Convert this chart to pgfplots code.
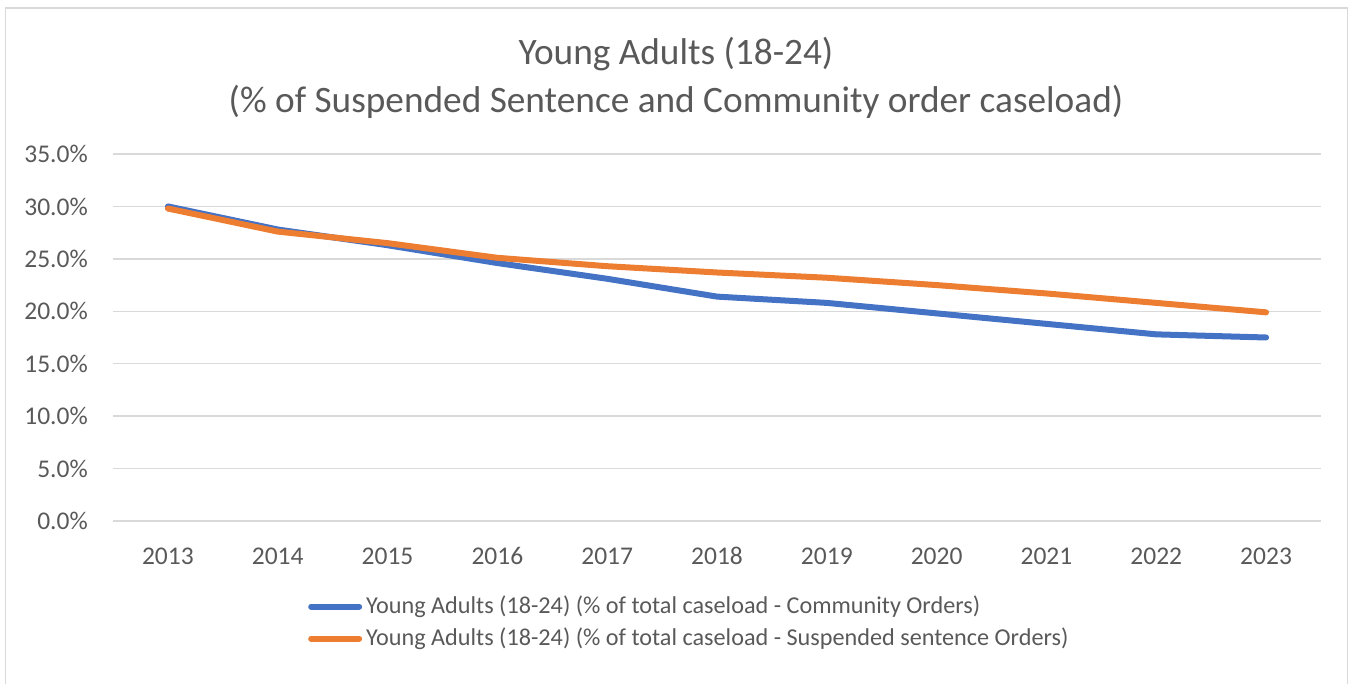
\documentclass[border=0pt]{standalone}
\usepackage{fontspec}
\setmainfont{Carlito}
\usepackage{pgfplots}
\pgfplotsset{compat=1.18}
\definecolor{cblue}{HTML}{4472C4}
\definecolor{corange}{HTML}{ED7D31}
\definecolor{ctext}{HTML}{595959}
\definecolor{cgrid}{HTML}{D9D9D9}
\begin{document}
\begin{tikzpicture}[x=1pt,y=1pt]
\path[use as bounding box] (0,0) rectangle (1352,683);
\draw[cgrid, line width=1.5pt] (5.5,-2) -- (5.5,675) -- (1347.5,675) -- (1347.5,-2);
\node[anchor=base, text=ctext, font=\fontsize{37.3}{44}\selectfont] at (676,618) {Young Adults (18-24)};
\node[anchor=base, text=ctext, font=\fontsize{37.3}{44}\selectfont] at (676,570) {(\% of Suspended Sentence and Community order caseload)};
\begin{axis}[
  at={(113pt,162pt)}, anchor=south west,
  scale only axis, width=1208pt, height=367pt,
  xmin=-0.5, xmax=10.5, ymin=0, ymax=35,
  xtick={0,...,10},
  xticklabels={2013,2014,2015,2016,2017,2018,2019,2020,2021,2022,2023},
  ytick={0,5,...,35},
  axis line style={draw=none},
  major tick length=0pt,
  ymajorgrids, grid style={cgrid, line width=1.5pt},
  /pgf/number format/assume math mode=true,
  yticklabel={\pgfmathprintnumber[fixed,fixed zerofill,precision=1]{\tick}\%},
  tick label style={text=ctext, font=\fontsize{25.5}{30}\selectfont},
  yticklabel style={anchor=east, inner sep=0pt, xshift=-25pt},
  xticklabel style={anchor=base, inner sep=0pt, yshift=-43pt},
  legend style={at={(0.1614,-0.2000)}, anchor=north west, draw=none, fill=none,
    inner sep=0pt, row sep=7pt, column sep=4pt,
    font=\fontsize{24.2}{29}\selectfont, text=ctext,
    nodes={inner sep=0pt, text height=19pt, text depth=6pt, anchor=base west}},
  legend cell align=left,
  legend image code/.code={\draw[#1, line cap=round] (0pt,7pt) -- (48pt,7pt);},
]
\addplot[cblue, line width=6pt, line cap=round, line join=round] coordinates {
(0,30.0) (1,27.8) (2,26.3) (3,24.6) (4,23.1) (5,21.4) (6,20.8) (7,19.8) (8,18.8) (9,17.8) (10,17.5)};
\addlegendentry{Young Adults (18-24) (\% of total caseload - Community Orders)}
\addplot[corange, line width=6pt, line cap=round, line join=round] coordinates {
(0,29.8) (1,27.6) (2,26.5) (3,25.1) (4,24.3) (5,23.7) (6,23.2) (7,22.5) (8,21.7) (9,20.8) (10,19.9)};
\addlegendentry{Young Adults (18-24) (\% of total caseload - Suspended sentence Orders)}
\end{axis}
\end{tikzpicture}
\end{document}
